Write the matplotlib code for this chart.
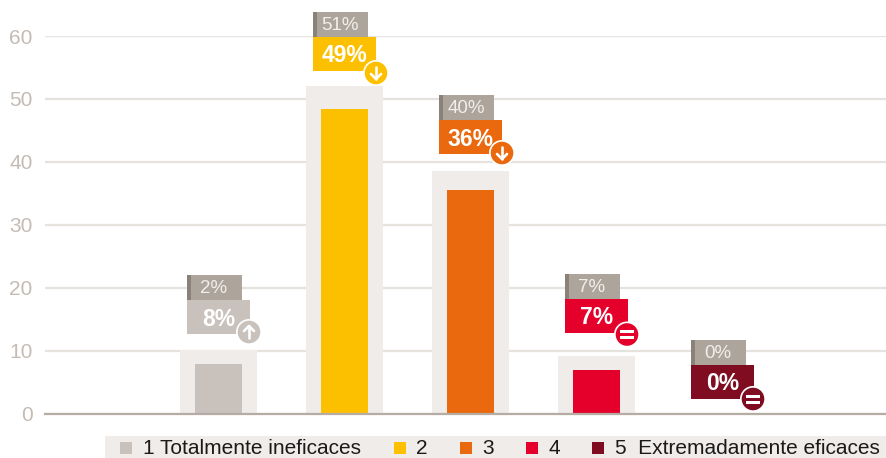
import matplotlib
matplotlib.use("Agg")
import matplotlib.pyplot as plt
from matplotlib.patches import Rectangle, Circle

plt.rcParams['font.family'] = ['Liberation Sans', 'DejaVu Sans']

categories = ['1 Totalmente ineficaces', '2', '3', '4', '5  Extremadamente eficaces']
current_values = [7.9, 48.4, 35.5, 6.9, 0]
previous_bars = [10.1, 52, 38.5, 9.1, 0]
previous_labels = ['2%', '51%', '40%', '7%', '0%']
current_labels = ['8%', '49%', '36%', '7%', '0%']
trends = ['up', 'down', 'down', 'equal', 'equal']
colors = ['#c9c1bb', '#fdc000', '#ea690f', '#e4002b', '#7f0c20']
y_ticks = [0, 10, 20, 30, 40, 50, 60]
label_tops = [275, 12, 95, 273.5, 340]
icon_nudges = [(-1, -2), (0, 2), (0, -1), (-1, 2), (-1, 0)]

W, H = 887, 458
fig = plt.figure(figsize=(W / 100, H / 100), dpi=100)
ax = fig.add_axes([45 / W, (H - 413.5) / H, 842 / W, 377.5 / H])
ax.set_xlim(-173.5 / 126, 668.5 / 126)
ax.set_ylim(0, 60)
ax.patch.set_alpha(0)
x = list(range(len(categories)))
ax.bar(x, previous_bars, width=77 / 126, color='#efece9', zorder=2)
ax.bar(x, current_values, width=47 / 126, color=colors, zorder=3)
ax.set_yticks(y_ticks)
ax.set_xticks([])
ax.tick_params(axis='y', length=0, pad=9, labelsize=15, labelcolor='#c4bcb4')
ax.grid(axis='y', color='#e6e2dd', lw=1.6, zorder=1)
ax.set_axisbelow(True)
for s in ['top', 'right', 'left']:
    ax.spines[s].set_visible(False)
ax.spines['bottom'].set_color('#b5aca3')
ax.spines['bottom'].set_linewidth(1.6)
ax.spines['bottom'].set_zorder(5)

ov = fig.add_axes([0, 0, 1, 1], zorder=5)
ov.set_xlim(0, W)
ov.set_ylim(H, 0)
ov.axis('off')
ov.patch.set_alpha(0)

for i in x:
    left = 187 + 126 * i
    top = label_tops[i]
    ov.add_patch(Rectangle((left, top), 55, 25, fc='#ada49b', ec='none'))
    ov.add_patch(Rectangle((left, top), 4, 25, fc='#8a8178', ec='none'))
    ov.text(left + 27, top + 13.5, previous_labels[i], color='#f1eeeb', fontsize=13.5,
            ha='center', va='center')
    ov.add_patch(Rectangle((left, top + 25), 63, 34, fc=colors[i], ec='none'))
    ov.text(left + 31.5, top + 44, current_labels[i], color='white', fontsize=16.5,
            fontweight='bold', ha='center', va='center')
    cx = left + 63 + icon_nudges[i][0]
    cy = top + 59 + icon_nudges[i][1]
    ov.add_patch(Circle((cx, cy), 13, fc='white', ec='none'))
    ov.add_patch(Circle((cx, cy), 11.3, fc=colors[i], ec='none'))
    kw = dict(color='white', lw=1.9, solid_capstyle='round', solid_joinstyle='round')
    if trends[i] == 'up':
        ov.plot([cx, cx], [cy + 6, cy - 6], **kw)
        ov.plot([cx - 5, cx, cx + 5], [cy - 1, cy - 6, cy - 1], **kw)
    elif trends[i] == 'down':
        ov.plot([cx, cx], [cy - 6, cy + 6], **kw)
        ov.plot([cx - 5, cx, cx + 5], [cy + 1, cy + 6, cy + 1], **kw)
    else:
        ov.add_patch(Rectangle((cx - 7, cy - 4.5), 14, 3, fc='white', ec='none'))
        ov.add_patch(Rectangle((cx - 7, cy + 1.5), 14, 3, fc='white', ec='none'))

# legend strip
ov.add_patch(Rectangle((105, 436), W - 105, 22, fc='#efece9', ec='none'))
leg_sq = [120, 394, 460, 526, 592]
leg_txt = [143, 416, 482, 549, 615]
for i in x:
    ov.add_patch(Rectangle((leg_sq[i], 442), 12, 12, fc=colors[i], ec='none'))
    ov.text(leg_txt[i], 448, categories[i],
            color='#1a1a1a', fontsize=15, ha='left', va='center')

fig.savefig('out.png', dpi=100)
